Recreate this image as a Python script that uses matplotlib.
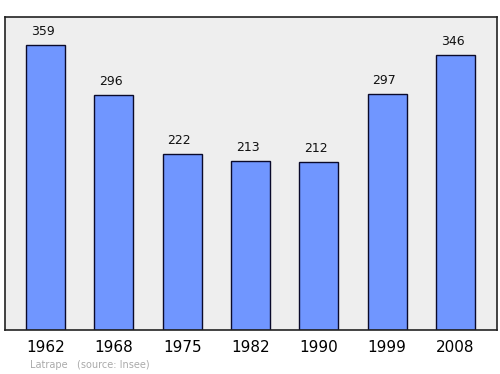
import matplotlib
matplotlib.use("Agg")
import matplotlib.pyplot as plt

years = ["1962", "1968", "1975", "1982", "1990", "1999", "2008"]
population = [359, 296, 222, 213, 212, 297, 346]

fig = plt.figure(figsize=(5.0, 3.74), dpi=100)
ax = fig.add_axes([5 / 500, 1 - 330 / 374, 492 / 500, 313 / 374])
ax.set_facecolor("#eeeeee")

x = list(range(len(years)))
ax.bar(x, population, width=0.571, color="#7096ff", edgecolor="#0a0a2a",
       linewidth=1.0, zorder=2)

for xi, v in zip(x, population):
    ax.annotate(str(v), (xi, v), xytext=(-2, 5), textcoords="offset points",
                ha="center", va="bottom", fontsize=9, color="#111111")

ax.set_xlim(-0.593, 6.607)
ax.set_ylim(0, 394)
ax.set_yticks([])
ax.set_xticks(x)
ax.set_xticklabels(years, fontsize=11)
ax.tick_params(axis="x", length=0, pad=7)
for s in ax.spines.values():
    s.set_linewidth(1.2)
    s.set_color("#222222")

fig.text(30 / 500, 1 - 365 / 374, "Latrape   (source: Insee)", fontsize=7,
         color="#aaaaaa", va="center", ha="left")

fig.savefig("out.png", dpi=100)
